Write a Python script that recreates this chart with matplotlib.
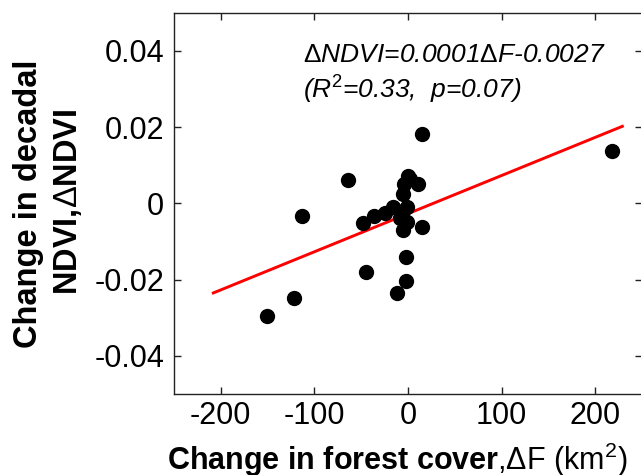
import matplotlib
matplotlib.use("Agg")
import matplotlib.pyplot as plt

plt.rcParams["font.family"] = ["Liberation Sans", "DejaVu Sans"]
plt.rcParams["mathtext.fontset"] = "custom"
plt.rcParams["mathtext.rm"] = "Liberation Sans"
plt.rcParams["mathtext.it"] = "Liberation Sans:italic"
plt.rcParams["mathtext.bf"] = "Liberation Sans:bold"

# Change in forest cover (km^2) and change in decadal NDVI per site
delta_f = [14.6, -63.8, -112.9, -48.0, -36.3, -24.6, -15.7, -5.0, -1.0,
           -8.5, -1.4, -5.0, 15.0, 0.0, 2.0, 11.0, -4.0, -5.0, -2.5,
           -2.5, -11.4, -45.2, -121.8, -150.3, 218.3]
delta_ndvi = [0.0183, 0.0060, -0.0033, -0.0052, -0.0033, -0.0024, -0.0010,
              -0.0020, -0.0010, -0.0038, -0.0049, -0.0069, -0.0063, 0.0073,
              0.0063, 0.0050, 0.0050, 0.0025, -0.0142, -0.0203, -0.0236,
              -0.0179, -0.0248, -0.0296, 0.0138]

# Linear fit: dNDVI = slope * dF + intercept
slope = 0.0001
intercept = -0.0027
fit_x = [-208, 229]
fit_y = [slope * v + intercept for v in fit_x]

x_ticks = [-200, -100, 0, 100, 200]
y_ticks = [-0.04, -0.02, 0, 0.02, 0.04]
y_tick_labels = ["-0.04", "-0.02", "0", "0.02", "0.04"]

fig = plt.figure(figsize=(6.41, 4.75), dpi=100)
ax = fig.add_axes([174 / 641, 1 - 394 / 475, (642 - 174) / 641, (394 - 12.7) / 475])

ax.plot(fit_x, fit_y, color="#ff0000", linewidth=2.1, zorder=2)
ax.plot(delta_f, delta_ndvi, linestyle="none", marker="o", markersize=10,
        color="black", markeredgecolor="black", zorder=3)

ax.set_xlim(-250, 250)
ax.set_ylim(-0.05, 0.05)
ax.set_xticks(x_ticks)
ax.set_xticklabels([str(v) for v in x_ticks])
ax.set_yticks(y_ticks)
ax.set_yticklabels(y_tick_labels)

for s in ax.spines.values():
    s.set_color("#222222")
    s.set_linewidth(1.0)

ax.tick_params(axis="both", which="major", direction="in", top=True, right=True,
               length=5, width=1.0, color="#222222", labelsize=22)
ax.tick_params(axis="x", pad=5)
ax.tick_params(axis="y", pad=7)

ax.text(-112, 0.0370, r"$\Delta$NDVI=0.0001$\Delta$F-0.0027",
        fontsize=19, fontstyle="italic", va="baseline", ha="left")
ax.text(-112, 0.0275, r"(R$^{\mathit{2}}$=0.33,  p=0.07)",
        fontsize=19, fontstyle="italic", va="baseline", ha="left")

# Axis titles
fig.text(167 / 641, 1 - 470 / 475,
         r"$\mathbf{Change\ in\ forest\ cover}$,$\Delta$F (km$^{2}$)",
         fontsize=22, ha="left", va="baseline")
fig.text(37 / 641, 1 - 203.5 / 475, "Change in decadal", fontsize=23.5,
         fontweight="bold", rotation=90, rotation_mode="anchor",
         ha="center", va="baseline")
fig.text(77 / 641, 1 - 202 / 475, r"NDVI,$\Delta$NDVI", fontsize=23.5,
         fontweight="bold", rotation=90, rotation_mode="anchor",
         ha="center", va="baseline")

fig.savefig("out.png", dpi=100)
